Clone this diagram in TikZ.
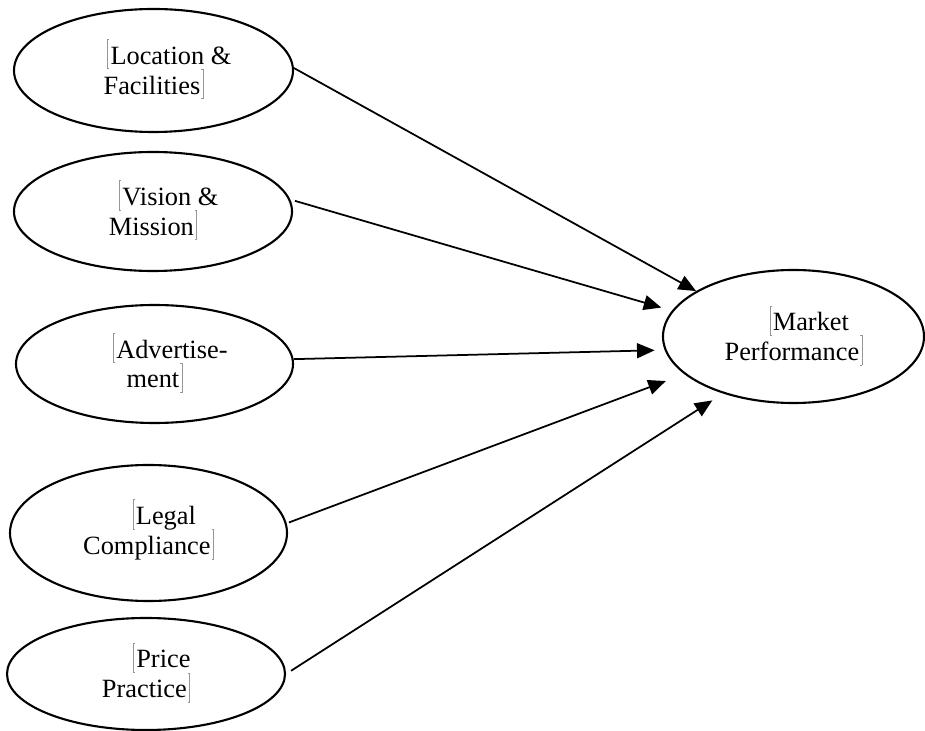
\documentclass[tikz,border=0pt]{standalone}
\usepackage{fontspec}
\setmainfont{Liberation Serif}
\usetikzlibrary{shapes.geometric,arrows.meta}
\definecolor{mkgrey}{RGB}{150,150,150}

% petits crochets gris autour des textes
\newcommand{\mko}{\smash{\textcolor{mkgrey}{\rule[-2.8pt]{0.35pt}{17pt}\kern-0.35pt\rule[13.85pt]{1.2pt}{0.35pt}\kern-1.2pt\rule[-2.8pt]{1.2pt}{0.35pt}}}\kern0.6pt}
\newcommand{\mkf}{\kern0.6pt\smash{\textcolor{mkgrey}{\rule[13.85pt]{1.2pt}{0.35pt}\kern-1.2pt\rule[-2.8pt]{1.2pt}{0.35pt}\kern-0.35pt\rule[-2.8pt]{0.35pt}{17pt}}}}

\begin{document}
\begin{tikzpicture}

  % Styles
  \tikzstyle{bulle} = [ellipse, draw, line width=1.2pt, inner sep=0pt, align=center, font=\fontsize{15}{17}\selectfont]
  \tikzstyle{fleche} = [-{Triangle[length=10pt,width=8.5pt]}, line width=1pt]

  % Cadre
  \useasboundingbox (0,0) rectangle (18.5,14.6);

  % Facteurs
  \draw (3.07,13.19) node[bulle, minimum width=5.58cm, minimum height=2.46cm] (loc) {\hspace*{18pt}\mko Location \&\\Facilities\mkf};
  \draw (3.06,10.37) node[bulle, minimum width=5.56cm, minimum height=2.38cm] (vis) {\hspace*{18pt}\mko Vision \&\\Mission\mkf};
  \draw (3.09,7.32) node[bulle, minimum width=5.54cm, minimum height=2.36cm] (adv) {\hspace*{18pt}\mko Advertise-\\ment\mkf};
  \draw (2.97,3.94) node[bulle, minimum width=5.54cm, minimum height=2.72cm] (leg) {\hspace*{18pt}\mko Legal\\Compliance\mkf};
  \draw (2.92,1.12) node[bulle, minimum width=5.56cm, minimum height=2.24cm] (pri) {\hspace*{18pt}\mko Price\\Practice\mkf};

  % Performance
  \draw (15.87,7.87) node[bulle, minimum width=5.22cm, minimum height=2.66cm] (mkt) {\hspace*{18pt}\mko Market\\Performance\mkf};

  % Fleches
  \draw[fleche] (loc.1) -- (mkt.155);
  \draw[fleche, shorten <=2.8pt, shorten >=6.3pt] (vis.5) -- (mkt.168);
  \draw[fleche, shorten >=5.7pt] (adv.2) -- (mkt.186);
  \draw[fleche, shorten <=1.4pt, shorten >=11.2pt] (leg.4) -- (mkt.199);
  \draw[fleche, shorten <=3.4pt, shorten >=7.2pt] (pri.0) -- (mkt.219);

\end{tikzpicture}
\end{document}
